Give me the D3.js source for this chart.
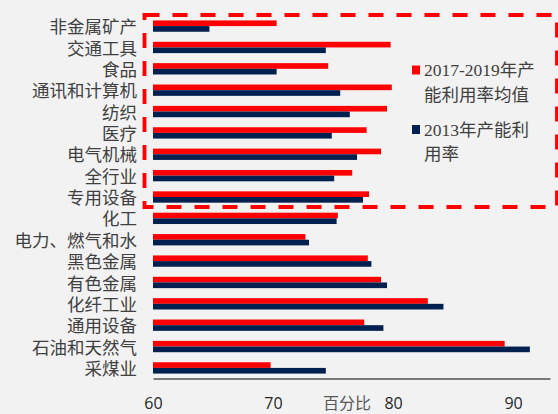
<!DOCTYPE html>
<html>
<head>
<meta charset="utf-8">
<script src="https://cdn.jsdelivr.net/npm/d3@7"></script>
<style>
  body { margin: 0; background: #f2f2f2; }
  svg { display: block; }
  .cat { font-family: "Noto Sans CJK SC", sans-serif; font-size: 17.5px; fill: #404040; }
  .legend text { font-family: "Liberation Serif", "Noto Sans CJK SC", serif; font-size: 17.5px; fill: #404040; }
  .axis text { font-family: "Open Sans", "Liberation Sans", sans-serif; font-size: 16px; fill: #262626; }
</style>
</head>
<body>
<svg id="chart" width="558" height="414"></svg>
<script>
// categories, top to bottom
var categories = ["非金属矿产", "交通工具", "食品", "通讯和计算机", "纺织", "医疗", "电气机械",
                  "全行业", "专用设备", "化工", "电力、燃气和水", "黑色金属", "有色金属",
                  "化纤工业", "通用设备", "石油和天然气", "采煤业"];

// 2017-2019 average capacity utilisation
var avg1719 = [70.3, 79.8, 74.6, 79.9, 79.5, 77.8, 79.0, 76.6, 78.0, 75.4, 72.7, 77.9, 79.0, 82.9, 77.6, 89.3, 69.8];
// 2013 capacity utilisation
var rate2013 = [64.7, 74.4, 70.3, 75.6, 76.4, 74.9, 77.0, 75.1, 77.5, 75.3, 73.0, 78.2, 79.5, 84.2, 79.2, 91.4, 74.4];

var legendLines = [["2017-2019年产", "能利用率均值"], ["2013年产能利", "用率"]];
var colors = ["#ff0000", "#002050"];
var xTicks = [60, 70, 80, 90];
var xLabel = "百分比";

var svg = d3.select("#chart");

var x = d3.scaleLinear().domain([60, 93.08]).range([153, 550]);
var y = d3.scaleBand().domain(categories).range([15.3, 378.7]).paddingInner(0.47).paddingOuter(0.24);
var ySub = d3.scaleBand().domain([0, 1]).range([0, y.bandwidth()]);

var rows = categories.map(function(c, i) {
  return { cat: c, vals: [avg1719[i], rate2013[i]] };
});

var g = svg.append("g").selectAll("g")
  .data(rows)
  .enter().append("g")
    .attr("transform", function(d) { return "translate(0," + y(d.cat) + ")"; });

g.selectAll("rect")
  .data(function(d) { return d.vals; })
  .enter().append("rect")
    .attr("x", x(60))
    .attr("y", function(d, i) { return ySub(i); })
    .attr("width", function(d) { return x(d) - x(60); })
    .attr("height", ySub.bandwidth())
    .attr("fill", function(d, i) { return colors[i]; });

// category labels
svg.append("g").selectAll("text")
  .data(categories)
  .enter().append("text")
    .attr("class", "cat")
    .attr("x", 137)
    .attr("y", function(d) { return y(d) + y.bandwidth() / 2 + 1; })
    .attr("dy", "0.35em")
    .attr("text-anchor", "end")
    .text(function(d) { return d; });

// x axis
var axis = svg.append("g")
  .attr("class", "axis")
  .attr("transform", "translate(0,378.5)")
  .call(d3.axisBottom(x).tickValues(xTicks).tickSize(0).tickFormat(d3.format("d")));
axis.select(".domain").attr("stroke", "#000").attr("stroke-width", 1.2);
axis.selectAll("text").attr("dy", "0.35em").attr("y", 24.5);

svg.append("text")
  .attr("x", 347)
  .attr("y", 403)
  .attr("dy", "0.35em")
  .attr("text-anchor", "middle")
  .style("font-family", "'Noto Sans CJK SC', sans-serif")
  .style("font-size", "16px")
  .style("fill", "#595959")
  .text(xLabel);

// legend
var legend = svg.append("g").attr("class", "legend");
var legendY = [70, 129.5];
legendLines.forEach(function(lines, i) {
  legend.append("rect")
    .attr("x", 412)
    .attr("y", legendY[i] - 4.5)
    .attr("width", 8)
    .attr("height", 9)
    .attr("fill", colors[i]);
  lines.forEach(function(line, j) {
    legend.append("text")
      .attr("x", 424)
      .attr("y", legendY[i] + j * 24.5)
      .attr("dy", "0.35em")
      .text(line);
  });
});

// dashed highlight box
svg.append("rect")
  .attr("x", 144.5)
  .attr("y", 15)
  .attr("width", 412.5)
  .attr("height", 192)
  .attr("fill", "none")
  .attr("stroke", "#ff0000")
  .attr("stroke-width", 3.8)
  .attr("stroke-dasharray", "15,13");
</script>
</body>
</html>
